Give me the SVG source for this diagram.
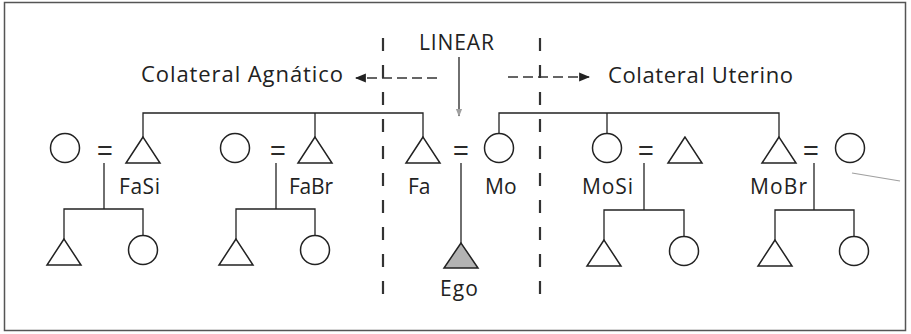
<svg xmlns="http://www.w3.org/2000/svg" width="911" height="334" viewBox="0 0 911 334">
  <style>
    .frame { fill: #ffffff; stroke: #555555; stroke-width: 1.5; }
    .sym { fill: #ffffff; stroke: #222222; stroke-width: 1.5; }
    .ego { fill: #b3b3b3; stroke: #222222; stroke-width: 1.5; }
    .line { fill: none; stroke: #222222; stroke-width: 1.3; }
    .divider { fill: none; stroke: #333333; stroke-width: 2.2; stroke-dasharray: 13 14; }
    .dir { fill: none; stroke: #333333; stroke-width: 1.3; stroke-dasharray: 10 5; }
    .lbl { font-family: "Open Sans", "Liberation Sans", sans-serif; font-size: 21px; fill: #222222; }
    .big { font-size: 22px; }
    .eq { font-family: "Liberation Sans", sans-serif; font-size: 27px; fill: #2a2a2a; text-anchor: middle; }
  </style>
  <defs>
    <marker id="head" viewBox="0 0 10 10" refX="9" refY="5" markerWidth="11" markerHeight="11" markerUnits="userSpaceOnUse" orient="auto">
      <path d="M0,1 L10,5 L0,9 Z" fill="#222222"/>
    </marker>
    <marker id="headFaint" viewBox="0 0 10 10" refX="9" refY="5" markerWidth="8" markerHeight="8" markerUnits="userSpaceOnUse" orient="auto">
      <path d="M0,1 L10,5 L0,9 Z" fill="#a0a0a0"/>
    </marker>
  </defs>

  <!-- outer frame -->
  <rect class="frame" x="4.5" y="2.5" width="901" height="328"/>

  <!-- lineal / collateral dividers -->
  <g id="dividers">
    <line class="divider" x1="383" y1="38" x2="383" y2="300"/>
    <line class="divider" x1="540" y1="38" x2="540" y2="300"/>
  </g>

  <!-- headings -->
  <g id="heading-linear">
    <text class="lbl" x="419" y="50" textLength="75" lengthAdjust="spacing">LINEAR</text>
  </g>
  <g id="heading-agnatic">
    <text class="lbl big" x="141" y="82" textLength="202" lengthAdjust="spacing">Colateral Agnático</text>
  </g>
  <g id="heading-uterine">
    <text class="lbl big" x="608" y="83" textLength="185" lengthAdjust="spacing">Colateral Uterino</text>
  </g>

  <!-- connectors: direction arrows and descent lines -->
  <g id="connectors">
    <line class="line" x1="459" y1="57" x2="459" y2="116" marker-end="url(#headFaint)"/>
    <line class="dir" x1="437" y1="78" x2="356" y2="78" marker-end="url(#head)"/>
    <line class="dir" x1="508" y1="77" x2="589" y2="77" marker-end="url(#head)"/>

    <!-- father's sibling set -->
    <polyline class="line" points="143,137 143,113 423,113 423,137"/>
    <line class="line" x1="315" y1="113" x2="315" y2="137"/>
    <!-- mother's sibling set -->
    <polyline class="line" points="499,133.5 499,113 779,113 779,137"/>
    <line class="line" x1="607" y1="113" x2="607" y2="133.5"/>

    <!-- FaSi children -->
    <line class="line" x1="104" y1="163" x2="104" y2="209"/>
    <polyline class="line" points="64,239 64,209 143,209 143,235.5"/>
    <!-- FaBr children -->
    <line class="line" x1="276" y1="163" x2="276" y2="209"/>
    <polyline class="line" points="236,239 236,209 315,209 315,235.5"/>
    <!-- Ego -->
    <line class="line" x1="461" y1="163" x2="461" y2="243"/>
    <!-- MoSi children -->
    <line class="line" x1="644" y1="163" x2="644" y2="210"/>
    <polyline class="line" points="604,240 604,210 684,210 684,236.5"/>
    <!-- MoBr children -->
    <line class="line" x1="814" y1="163" x2="814" y2="210"/>
    <polyline class="line" points="775,240 775,210 854,210 854,236.5"/>
  </g>

  <!-- marriage signs -->
  <g id="marriages">
    <text class="eq" x="105" y="160">=</text>
    <text class="eq" x="278" y="160">=</text>
    <text class="eq" x="461" y="160">=</text>
    <text class="eq" x="646" y="160">=</text>
    <text class="eq" x="811" y="160">=</text>
  </g>

  <!-- parental generation -->
  <g id="fasi-spouse"><circle class="sym" cx="65" cy="148" r="14.5"/></g>
  <g id="fasi"><polygon class="sym" points="143,137 126,163 160,163"/>
    <text class="lbl" x="119" y="194" textLength="41" lengthAdjust="spacing">FaSi</text></g>
  <g id="fabr-spouse"><circle class="sym" cx="235" cy="148" r="14.5"/></g>
  <g id="fabr"><polygon class="sym" points="315,137 298,163 332,163"/>
    <text class="lbl" x="289" y="194" textLength="44" lengthAdjust="spacing">FaBr</text></g>
  <g id="fa"><polygon class="sym" points="423,137 406,163 440,163"/>
    <text class="lbl" x="408" y="194">Fa</text></g>
  <g id="mo"><circle class="sym" cx="499" cy="148" r="14.5"/>
    <text class="lbl" x="485" y="194">Mo</text></g>
  <g id="mosi"><circle class="sym" cx="607" cy="148" r="14.5"/>
    <text class="lbl" x="582" y="194" textLength="51" lengthAdjust="spacing">MoSi</text></g>
  <g id="mosi-spouse"><polygon class="sym" points="685,137 668,163 702,163"/></g>
  <g id="mobr"><polygon class="sym" points="779,137 762,163 796,163"/>
    <text class="lbl" x="750" y="194" textLength="57" lengthAdjust="spacing">MoBr</text></g>
  <g id="mobr-spouse"><circle class="sym" cx="850" cy="148" r="14.5"/></g>

  <!-- ego generation -->
  <g id="fasi-son"><polygon class="sym" points="64,239 47,265 81,265"/></g>
  <g id="fasi-daughter"><circle class="sym" cx="143" cy="250" r="14.5"/></g>
  <g id="fabr-son"><polygon class="sym" points="236,239 219,265 253,265"/></g>
  <g id="fabr-daughter"><circle class="sym" cx="315" cy="250" r="14.5"/></g>
  <g id="ego"><polygon class="ego" points="461,243 444,268 478,268"/>
    <text class="lbl" x="440" y="296" textLength="38" lengthAdjust="spacing">Ego</text></g>
  <g id="mosi-son"><polygon class="sym" points="604,240 587,266 621,266"/></g>
  <g id="mosi-daughter"><circle class="sym" cx="684" cy="251" r="14.5"/></g>
  <g id="mobr-son"><polygon class="sym" points="775,240 758,266 792,266"/></g>
  <g id="mobr-daughter"><circle class="sym" cx="854" cy="251" r="14.5"/></g>

  <!-- pencil stroke near the right edge -->
  <line x1="852" y1="173" x2="900" y2="181" stroke="#a0a0a0" stroke-width="1.2"/>
</svg>
